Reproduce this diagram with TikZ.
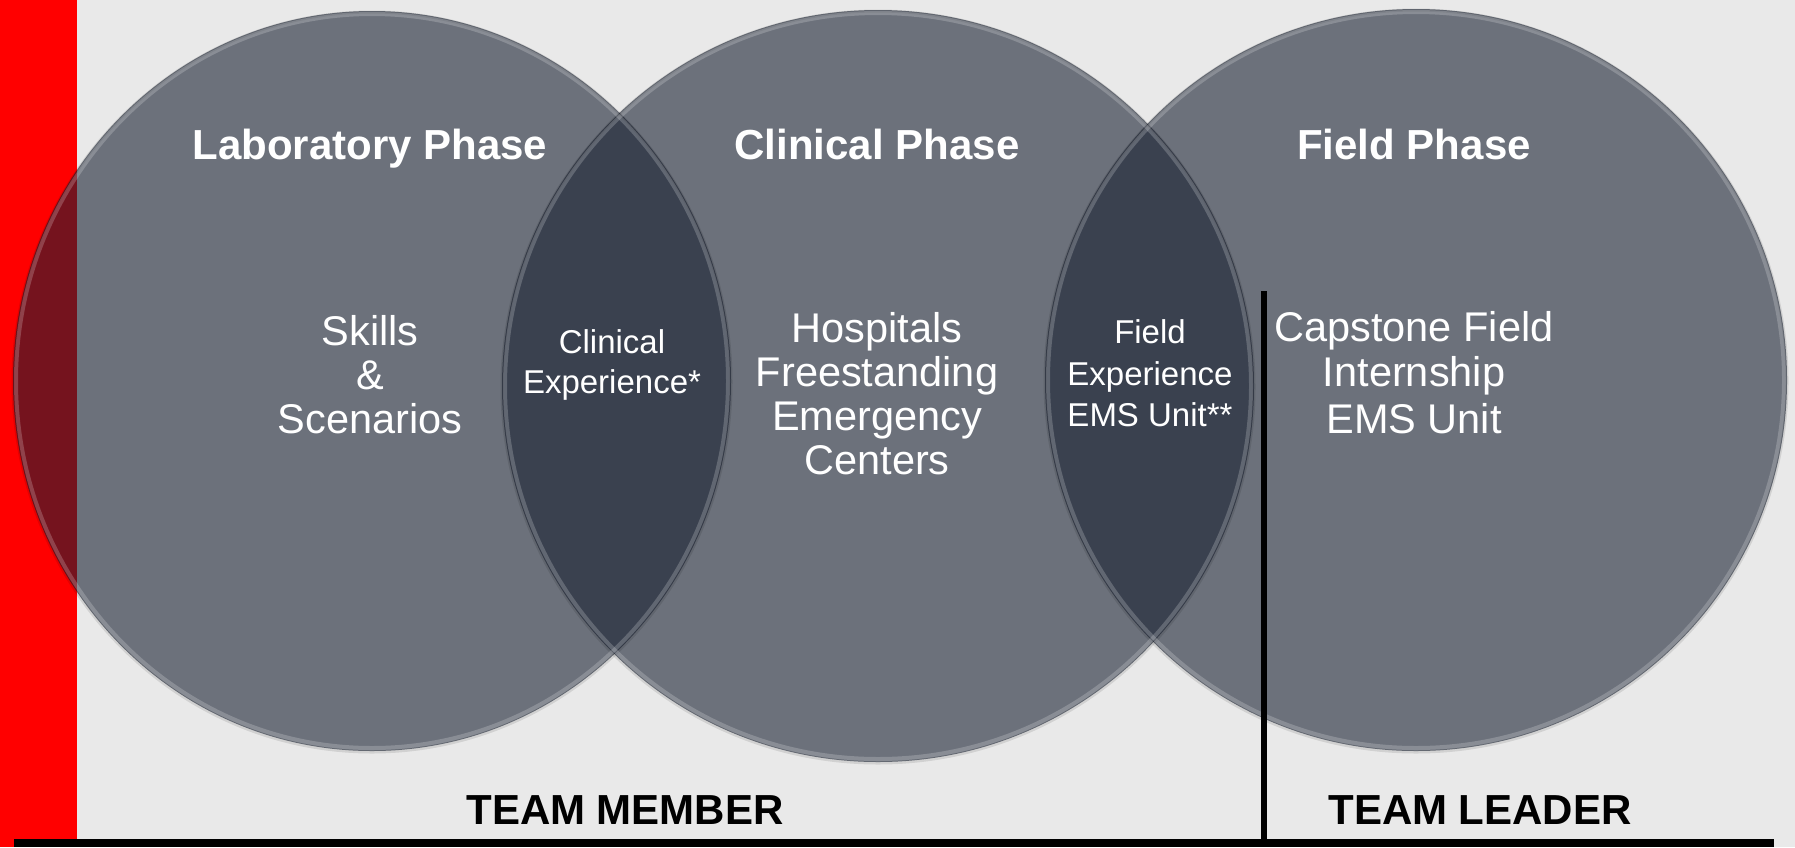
\documentclass[tikz,border=0pt]{standalone}
\usepackage{fontspec}
\setmainfont{Liberation Sans}
\definecolor{bgGray}{RGB}{233,233,233}
\definecolor{barRed}{RGB}{255,0,0}
\definecolor{phaseInk}{RGB}{25,33,50}
\begin{document}
\begin{tikzpicture}[x=1pt,y=-1pt,
  phase/.style={fill=phaseInk, fill opacity=0.6},
  rim/.style={draw=white, draw opacity=0.2, line width=4pt},
  edge shade/.style={draw=black, draw opacity=0.10, line width=3pt},
  head/.style={text=white, font=\fontsize{42}{48}\selectfont\bfseries, anchor=base, inner sep=0pt},
  body/.style={text=white, font=\fontsize{41.5}{44}\selectfont, anchor=base, inner sep=0pt},
  small/.style={text=white, font=\fontsize{33}{40}\selectfont, anchor=base, inner sep=0pt},
  team/.style={text=black, font=\fontsize{42}{48}\selectfont\bfseries, anchor=base, inner sep=0pt},
]
\useasboundingbox (0,0) rectangle (1795,847);
% backdrop and red side bar
\fill[bgGray] (0,0) rectangle (1795,847);
\fill[barRed] (0,0) rectangle (77,847);

% three translucent phase circles
\fill[phase] (372,381) ellipse [x radius=359, y radius=370];
\fill[phase] (878,386) circle (376);
\fill[phase] (1416,380) circle (371);
% soft outer edge and bevel highlight
\draw[edge shade] (372,382) ellipse [x radius=359, y radius=370];
\draw[edge shade] (878,387) circle (376);
\draw[edge shade] (1416,381) circle (371);
\draw[rim] (372,381) ellipse [x radius=356, y radius=367];
\draw[rim] (878,386) circle (373);
\draw[rim] (1416,380) circle (368);

% headings
\node[head] (lab) at (370,159) {Laboratory Phase};
\node[head] (clin) at (877,159) {Clinical Phase};
\node[head] (field) at (1414,159) {Field Phase};

% laboratory circle
\node[body] (lab1) at (370,345) {Skills};
\node[body] (lab2) at (370,389) {\&};
\node[body] (lab3) at (370,433) {Scenarios};

% overlap laboratory / clinical
\node[small] (ov1a) at (612,353) {Clinical};
\node[small] (ov1b) at (612,393) {Experience*};

% clinical circle
\node[body] (clin1) at (877,342) {Hospitals};
\node[body] (clin2) at (877,386) {Freestanding};
\node[body] (clin3) at (877,430) {Emergency};
\node[body] (clin4) at (877,474) {Centers};

% overlap clinical / field
\node[small] (ov2a) at (1150,343) {Field};
\node[small] (ov2b) at (1150,385) {Experience};
\node[small] (ov2c) at (1150,426) {EMS Unit**};

% field circle
\node[body] (fld1) at (1414,341) {Capstone Field};
\node[body] (fld2) at (1414,386) {Internship};
\node[body] (fld3) at (1414,433) {EMS Unit};

% role divider and base line
\coordinate (divtop) at (1264,291);
\coordinate (divbot) at (1264,843);
\coordinate (baseL) at (14,843);
\coordinate (baseR) at (1774,843);
\draw[black, line width=6pt] (divtop) -- (divbot);
\draw[black, line width=8pt] (baseL) -- (baseR);

\node[team] (member) at (625,824) {TEAM MEMBER};
\node[team] (leader) at (1480,824) {TEAM LEADER};
\end{tikzpicture}
\end{document}
